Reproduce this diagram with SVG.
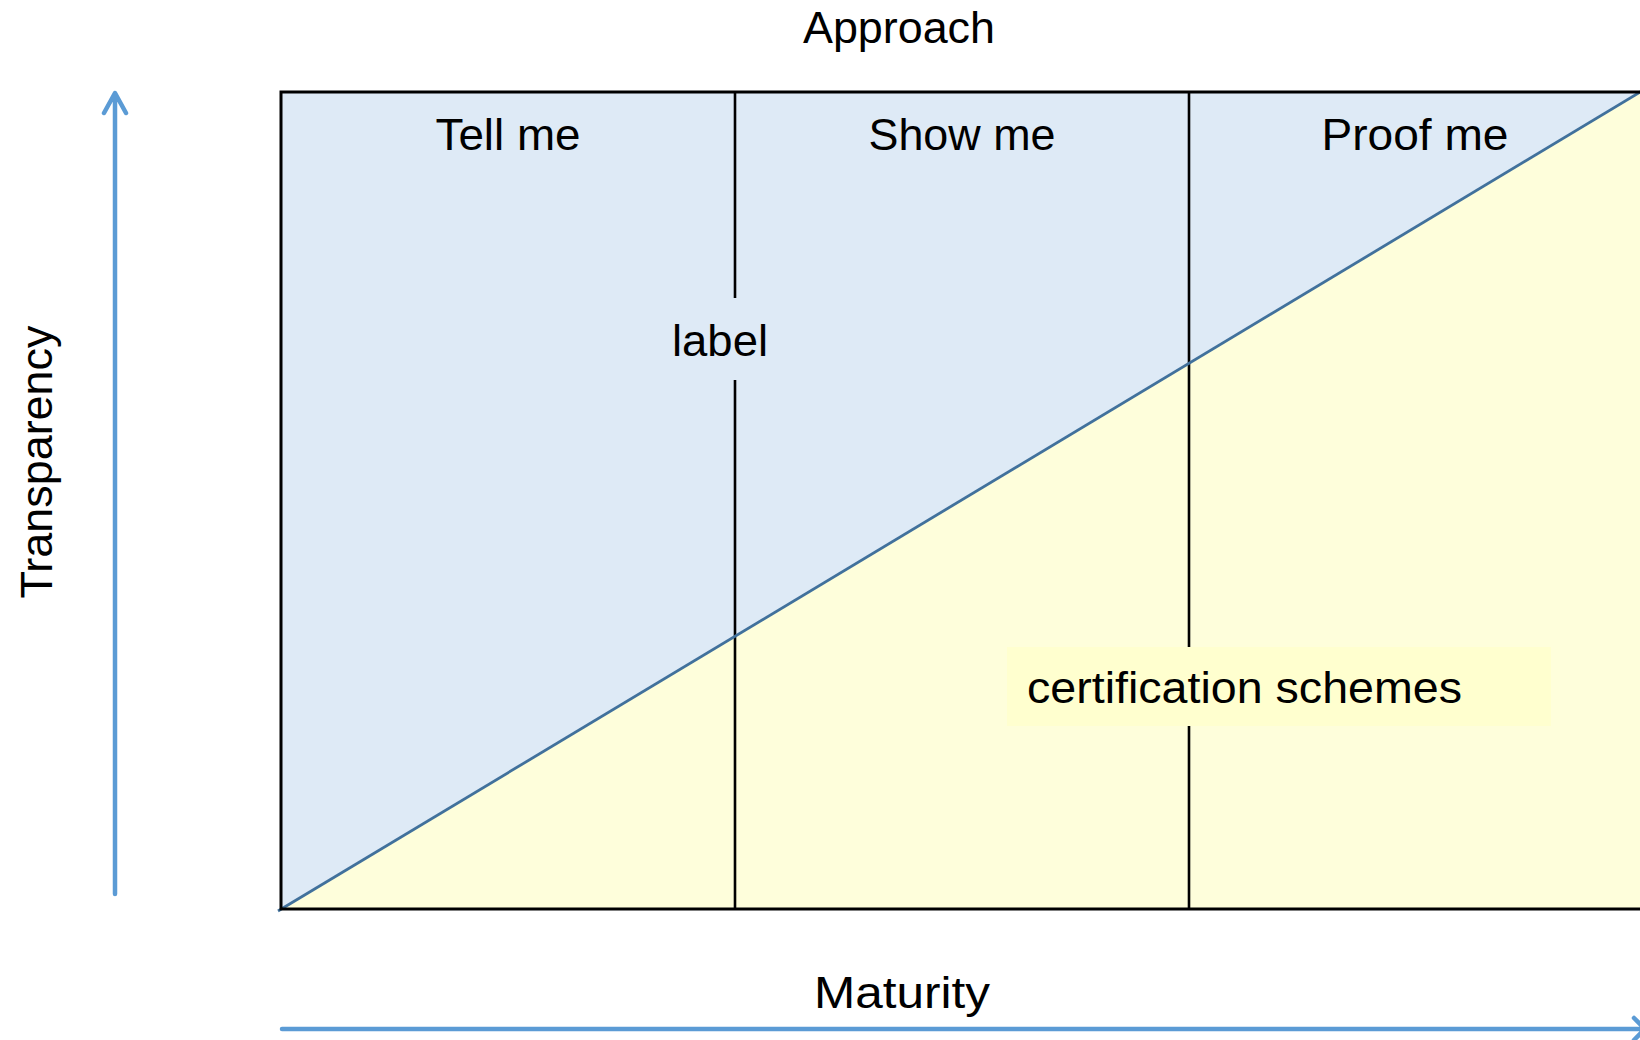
<svg xmlns="http://www.w3.org/2000/svg" width="1640" height="1040" viewBox="0 0 1640 1040">
<style>
.t{font-family:"Liberation Sans",Arial,sans-serif;font-size:45px;fill:#000;}
.axis{stroke:#5B9BD5;stroke-width:4.5;fill:none;stroke-linecap:round;stroke-linejoin:round;}
.div{stroke:#000;stroke-width:2.6;}
</style>
<rect width="1640" height="1040" fill="#fff"/>
<g id="chart">
<rect x="281" y="92" width="1364" height="817" fill="#DEEAF6"/>
<polygon points="281,909 1640,92 1645,92 1645,909" fill="#FEFEDB"/>
</g>
<g id="dividers">
<line class="div" x1="735" y1="92" x2="735" y2="909"/>
<line class="div" x1="1189" y1="92" x2="1189" y2="909"/>
</g>
<g id="diagonal">
<line x1="278" y1="911" x2="1642" y2="91" stroke="#41719C" stroke-width="2.8"/>
</g>
<g id="frame">
<rect x="281" y="92" width="1364" height="817" fill="none" stroke="#000" stroke-width="3"/>
</g>
<g id="label-node">
<rect x="668" y="298" width="104" height="82" fill="#DEEAF6"/>
<text class="t" x="720" y="356" text-anchor="middle" textLength="96" lengthAdjust="spacingAndGlyphs">label</text>
</g>
<g id="cert-node">
<rect x="1007" y="647" width="544" height="79" fill="#FFFFCF"/>
<text class="t" x="1027" y="703" textLength="435" lengthAdjust="spacingAndGlyphs">certification schemes</text>
</g>
<g id="col-tell">
<text class="t" x="508" y="150" text-anchor="middle" textLength="145" lengthAdjust="spacingAndGlyphs">Tell me</text>
</g>
<g id="col-show">
<text class="t" x="962" y="150" text-anchor="middle" textLength="187" lengthAdjust="spacingAndGlyphs">Show me</text>
</g>
<g id="col-proof">
<text class="t" x="1415" y="150" text-anchor="middle" textLength="187" lengthAdjust="spacingAndGlyphs">Proof me</text>
</g>
<g id="title">
<text class="t" x="899" y="43" text-anchor="middle" textLength="192" lengthAdjust="spacingAndGlyphs">Approach</text>
</g>
<g id="x-axis-label">
<text class="t" x="902" y="1008" text-anchor="middle" textLength="176" lengthAdjust="spacingAndGlyphs">Maturity</text>
</g>
<g id="y-axis-label">
<text class="t" transform="translate(52,462) rotate(-90)" x="0" y="0" text-anchor="middle" textLength="273" lengthAdjust="spacingAndGlyphs">Transparency</text>
</g>
<g id="connectors">
<path class="axis" d="M115,894 L115,94 M104,113 L115,93 L126,113"/>
<path class="axis" d="M282,1029 L1644,1029 M1634,1018 L1645,1029 L1634,1040"/>
</g>
</svg>
